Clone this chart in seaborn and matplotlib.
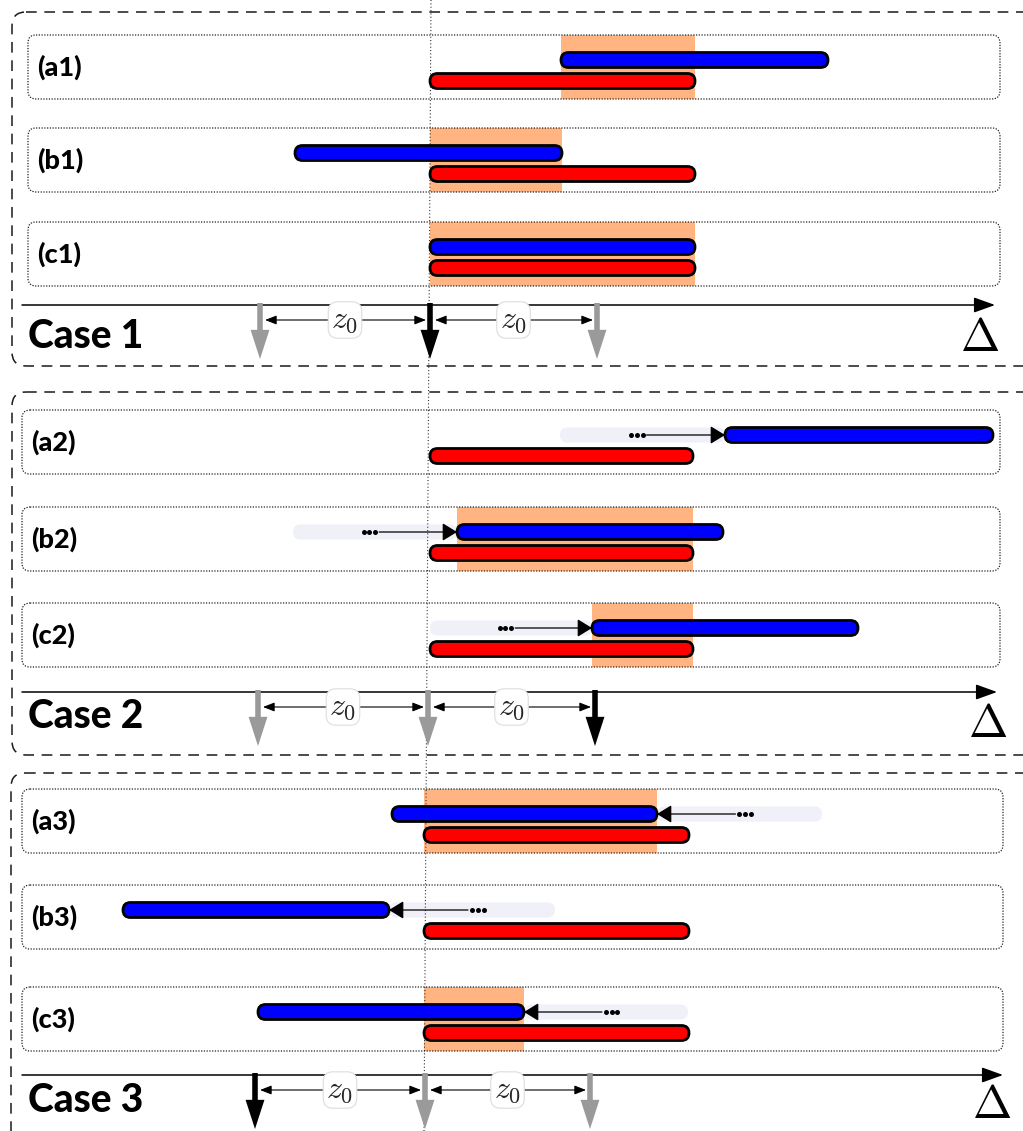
import matplotlib
matplotlib.use("Agg")
import matplotlib.pyplot as plt
from matplotlib.patches import FancyBboxPatch, FancyArrowPatch
import seaborn as sns

sns.set_theme(style="white")
plt.rcParams["font.family"] = ["Lato", "DejaVu Sans"]
plt.rcParams["mathtext.fontset"] = "cm"

# ---------------- data: intervals on the Δ axis ----------------
row_labels = ["(a1)", "(b1)", "(c1)", "(a2)", "(b2)", "(c2)", "(a3)", "(b3)", "(c3)"]
row_case = [0, 0, 0, 1, 1, 1, 2, 2, 2]
red_start = [430, 430, 430, 430, 430, 430, 424, 424, 424]
red_end = [695, 695, 695, 693, 693, 693, 689, 689, 689]
blue_start = [561, 295, 430, 725, 457, 592, 392, 123, 258]
blue_end = [828, 562, 695, 993, 723, 858, 657, 389, 524]
# where the blue interval was shifted from (None: not shifted)
blue_from = [None, None, None, 560, 293, 430, 822, 555, 688]

case_labels = ["Case 1", "Case 2", "Case 3"]
mark_left = [260, 258, 255]
mark_mid = [430, 428, 425]
mark_right = [597, 595, 590]
active_mark = [1, 2, 0]  # which of the three markers is the current one

# ---------------- layout ----------------
W, H = 1023, 1131
row_top = [35, 128, 222, 410, 507, 603, 789, 885, 987]
row_h = 64
row_left = [28, 22, 22]
row_right = [1000, 1000, 1003]
case_box = [(12, 12, 1040, 366), (12, 392, 1040, 755), (11, 773, 1040, 1160)]
axis_y = [305, 692, 1075]
axis_end = [995, 997, 1003]
case_text_y = [337, 717, 1100]
delta_pos = [(980, 338), (988, 724), (992, 1105)]

bar_h = 15
overlap_color = sns.color_palette("pastel")[1]
ghost_color = "#f0f0f8"
gray = "#9a9a9a"

fig = plt.figure(figsize=(W / 100, H / 100), dpi=100)
ax = fig.add_axes([0, 0, 1, 1])
ax.set_xlim(0, W)
ax.set_ylim(H, 0)
ax.axis("off")


def pill(x0, x1, yc, fc, ec="none", lw=0.0, z=3):
    ax.add_patch(FancyBboxPatch((x0, yc - bar_h / 2), x1 - x0, bar_h,
                                boxstyle=f"round,pad=0,rounding_size={bar_h / 2}",
                                fc=fc, ec=ec, lw=lw, zorder=z))


def rbox(x0, y0, x1, y1, r, **kw):
    ax.add_patch(FancyBboxPatch((x0, y0), x1 - x0, y1 - y0,
                                boxstyle=f"round,pad=0,rounding_size={r}",
                                fc="none", **kw))


# outer dashed frames, one per case
for (x0, y0, x1, y1) in case_box:
    rbox(x0, y0, x1, y1, 14, ec="#1a1a1a", lw=1.1, ls=(0, (7, 5)), zorder=1)

# reference line through the origin of the Δ axis
ax.plot([431, 424], [0, H], color="#333333", lw=0.8, ls=(0, (1, 2)), zorder=2.5)

for i, lab in enumerate(row_labels):
    c = row_case[i]
    top = row_top[i]
    x_l, x_r = row_left[c], row_right[c]
    y_blue = top + 25
    y_red = top + 46

    # overlap between the two intervals
    lo = max(red_start[i], blue_start[i])
    hi = min(red_end[i], blue_end[i])
    if hi > lo:
        ax.add_patch(plt.Rectangle((lo, top), hi - lo, row_h, fc=overlap_color,
                                   ec="none", zorder=1.2))

    # dotted row frame
    rbox(x_l, top, x_r, top + row_h, 8, ec="#222222", lw=0.9, ls=(0, (1, 1.2)), zorder=4)
    ax.text(x_l + 9, top + row_h / 2, lab, fontsize=19.5, fontweight="black",
            ha="left", va="center", color="black", zorder=5)

    # previous position of a shifted interval
    src = blue_from[i]
    if src is not None:
        dst = blue_start[i] if src < blue_start[i] else blue_end[i]
        pill(min(src, dst), max(src, dst), y_blue, ghost_color, z=2)
        sgn = 1 if dst > src else -1
        span = abs(dst - src)
        near = src + sgn * 0.43 * span
        dots = [near + sgn * k * 5.8 for k in range(3)]
        ax.plot(dots, [y_blue] * 3, "o", ms=3.6, color="black", mec="none", zorder=3.5)
        start = dots[-1] + sgn * 4
        ax.annotate("", xy=(dst, y_blue), xytext=(start, y_blue),
                    arrowprops=dict(arrowstyle="-|>,head_length=0.9,head_width=0.55",
                                    mutation_scale=10, lw=0.9, color="black",
                                    shrinkA=0, shrinkB=0), zorder=3.5)

    pill(blue_start[i], blue_end[i], y_blue, "#0000ff", ec="black", lw=2.0, z=3)
    pill(red_start[i], red_end[i], y_red, "#ff0000", ec="black", lw=2.0, z=3)

# Δ axes with the three markers
for c in range(3):
    ay = axis_y[c]
    ax.annotate("", xy=(axis_end[c], ay), xytext=(22, ay),
                arrowprops=dict(arrowstyle="-|>,head_length=1.3,head_width=0.47",
                                mutation_scale=10, lw=1.1, color="black",
                                shrinkA=0, shrinkB=0), zorder=4)
    marks = [mark_left[c], mark_mid[c], mark_right[c]]
    for k, mx in enumerate(marks):
        col = "black" if k == active_mark[c] else gray
        ax.add_patch(FancyArrowPatch((mx, ay - 2), (mx, ay + 54),
                                     arrowstyle="simple,head_length=1.05,head_width=0.68,tail_width=0.2",
                                     mutation_scale=20, color=col, lw=0,
                                     shrinkA=0, shrinkB=0, zorder=6 if col == "black" else 5))
    for a, b in [(marks[0], marks[1]), (marks[1], marks[2])]:
        ax.annotate("", xy=(b - 4, ay + 15), xytext=(a + 5, ay + 15),
                    arrowprops=dict(arrowstyle="<|-|>,head_length=1.15,head_width=0.45",
                                    mutation_scale=6, lw=0.8, color="black",
                                    shrinkA=0, shrinkB=0), zorder=4)
        ax.text((a + b) / 2, ay + 15, r"$z_0$", fontsize=23, ha="center", va="center",
                zorder=7, bbox=dict(boxstyle="round,pad=0.1,rounding_size=0.3",
                                    fc="white", ec="#dddddd", lw=0.8))
    ax.text(28, case_text_y[c], case_labels[c], fontsize=28, fontweight="black",
            ha="left", va="center", color="black", zorder=5)
    ax.text(delta_pos[c][0], delta_pos[c][1], r"$\Delta$", fontsize=34,
            ha="center", va="center", color="black", zorder=5)

fig.savefig("out.png", dpi=100)
